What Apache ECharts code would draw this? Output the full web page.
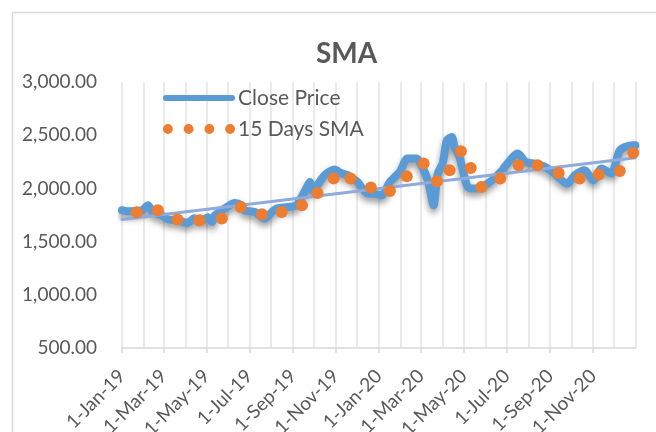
<!DOCTYPE html>
<html>
<head>
<meta charset="utf-8">
<script src="https://cdn.jsdelivr.net/npm/echarts@6.0.0/dist/echarts.min.js"></script>
<style>
  html, body { margin: 0; padding: 0; background: #fff; }
  #chart { width: 656px; height: 432px; }
</style>
</head>
<body>
<div id="chart"></div>
<script>
// Close price
const closeDates = [
    '2019-01-01', '2019-01-09', '2019-01-29', '2019-02-07', '2019-02-14', '2019-02-26',
    '2019-03-07', '2019-03-20', '2019-04-04', '2019-04-14', '2019-04-24', '2019-05-03',
    '2019-05-09', '2019-05-13', '2019-06-03', '2019-06-10', '2019-06-20', '2019-06-24',
    '2019-07-09', '2019-07-23', '2019-08-02', '2019-08-10', '2019-08-25', '2019-09-06',
    '2019-09-21', '2019-09-25', '2019-09-29', '2019-10-16', '2019-10-30', '2019-11-09',
    '2019-11-18', '2019-12-02', '2019-12-16', '2019-12-26', '2020-01-05', '2020-01-17',
    '2020-01-31', '2020-02-11', '2020-02-24', '2020-03-02', '2020-03-11', '2020-03-16',
    '2020-03-19', '2020-03-25', '2020-04-01', '2020-04-07', '2020-04-14', '2020-04-18',
    '2020-04-25', '2020-05-02', '2020-05-07', '2020-05-17', '2020-05-31', '2020-06-10',
    '2020-06-25', '2020-06-28', '2020-07-17', '2020-07-28', '2020-08-10', '2020-08-25',
    '2020-09-07', '2020-09-25', '2020-10-06', '2020-10-20', '2020-11-01', '2020-11-13',
    '2020-11-27', '2020-12-09', '2020-12-27', '2020-12-31'
];
const closeValues = [
    1795, 1785, 1793, 1841, 1776, 1748,
    1710, 1700, 1675, 1719, 1694, 1729,
    1684, 1747, 1841, 1863, 1841, 1794,
    1778, 1716, 1778, 1813, 1825, 1841,
    2013, 2060, 1982, 2123, 2177, 2142,
    2123, 2060, 1951, 1950, 1935, 2060,
    2154, 2280, 2280, 2217, 2076, 1919,
    1841, 2139, 2233, 2452, 2483, 2389,
    2295, 2107, 2013, 1998, 2029, 2076,
    2170, 2201, 2327, 2248, 2233, 2201,
    2139, 2045, 2123, 2170, 2076, 2186,
    2139, 2358, 2405, 2405
];

// 15 days SMA (dotted line, one value per dot)
const smaDates = [
    '2019-01-22', '2019-02-21', '2019-03-21', '2019-04-21', '2019-05-23', '2019-06-19',
    '2019-07-19', '2019-08-16', '2019-09-14', '2019-10-06', '2019-10-29', '2019-11-22',
    '2019-12-21', '2020-01-17', '2020-02-10', '2020-03-05', '2020-03-24', '2020-04-11',
    '2020-04-27', '2020-05-11', '2020-05-26', '2020-06-22', '2020-07-18', '2020-08-14',
    '2020-09-13', '2020-10-13', '2020-11-09', '2020-12-09', '2020-12-28'
];
const smaValues = [
    1775, 1795, 1707, 1700, 1716, 1825,
    1757, 1778, 1841, 1957, 2092, 2092,
    2008, 1976, 2114, 2233, 2067, 2170,
    2349, 2192, 2013, 2092, 2217, 2217,
    2145, 2092, 2130, 2164, 2333
];

// linear trendline of close price (two ends)
const trendDates = ['2019-01-01', '2020-12-31'];
const trendValues = [1707, 2289];

const monthNames = ['Jan', 'Feb', 'Mar', 'Apr', 'May', 'Jun', 'Jul', 'Aug', 'Sep', 'Oct', 'Nov', 'Dec'];

const DAY = 24 * 3600 * 1000;
const FONT = 'Lato, "Noto Sans", sans-serif';
const TEXT_COLOR = '#595959';

const chart = echarts.init(document.getElementById('chart'), null, { renderer: 'canvas' });

function fmtDate(value) {
    const d = new Date(value);
    if (d.getFullYear() > 2020) return '';
    return d.getDate() + '-' + monthNames[d.getMonth()] + '-' + String(d.getFullYear()).slice(2);
}

const zip = (xs, ys) => xs.map((x, i) => [x, ys[i]]);

const option = {
    backgroundColor: '#fff',
    animation: false,
    title: {
        text: 'SMA',
        left: 311,
        top: 35,
        textStyle: { fontFamily: FONT, fontSize: 28, fontWeight: 'bold', color: TEXT_COLOR }
    },
    legend: {
        orient: 'vertical',
        left: 158,
        top: 82,
        itemWidth: 72,
        itemHeight: 10,
        itemGap: 9,
        textStyle: { fontFamily: FONT, fontSize: 21, color: TEXT_COLOR, lineHeight: 22, padding: [0, 0, 0, -2] },
        data: [
            { name: 'Close Price', icon: 'path://M3,0 L69,0 A3,3 0 0 1 69,6 L3,6 A3,3 0 0 1 3,0 Z' },
            {
                name: '15 Days SMA',
                icon: 'path://M0,4.5 A4.5,4.5 0 1 1 9,4.5 A4.5,4.5 0 1 1 0,4.5 Z ' +
                      'M19,4.5 A4.5,4.5 0 1 1 28,4.5 A4.5,4.5 0 1 1 19,4.5 Z ' +
                      'M38,4.5 A4.5,4.5 0 1 1 47,4.5 A4.5,4.5 0 1 1 38,4.5 Z ' +
                      'M57,4.5 A4.5,4.5 0 1 1 66,4.5 A4.5,4.5 0 1 1 57,4.5 Z'
            }
        ]
    },
    grid: { left: 122, right: 20, top: 82, bottom: 84, containLabel: false, outerBoundsMode: 'none' },
    xAxis: [
        {
            type: 'time',
            min: '2019-01-01',
            max: '2021-01-01',
            minInterval: 75 * DAY,
            maxInterval: 75 * DAY,
            axisLine: { lineStyle: { color: '#D9D9D9', width: 1.5 } },
            axisTick: { show: true, length: 5, lineStyle: { color: '#D9D9D9', width: 1.5 } },
            axisLabel: {
                rotate: 45,
                margin: 25,
                fontFamily: FONT,
                fontSize: 19,
                color: TEXT_COLOR,
                hideOverlap: false,
                showMaxLabel: false,
                formatter: fmtDate
            },
            splitLine: { show: false }
        },
        {
            // monthly vertical gridlines
            type: 'time',
            position: 'top',
            min: '2019-01-01',
            max: '2021-01-01',
            minInterval: 40 * DAY,
            maxInterval: 40 * DAY,
            axisLine: { show: false },
            axisTick: { show: false },
            axisLabel: { show: false },
            splitLine: { show: true, lineStyle: { color: '#EAEAEA', width: 2 } }
        }
    ],
    yAxis: {
        type: 'value',
        min: 500,
        max: 3000,
        interval: 500,
        axisLine: { show: false },
        axisTick: { show: false },
        splitLine: { show: false },
        axisLabel: {
            margin: 25,
            fontFamily: FONT,
            fontSize: 19,
            color: TEXT_COLOR,
            formatter: v => v.toLocaleString('en-US', { minimumFractionDigits: 2, maximumFractionDigits: 2 })
        }
    },
    graphic: [
        {
            type: 'rect',
            shape: { x: 12.5, y: 12.5, width: 700, height: 500 },
            style: { fill: 'none', stroke: '#D9D9D9', lineWidth: 1.5 },
            silent: true
        }
    ],
    series: [
        {
            name: 'Close Price',
            type: 'line',
            xAxisIndex: 0,
            data: zip(closeDates, closeValues),
            showSymbol: false,
            smooth: 0.25,
            color: '#5B9BD5',
            lineStyle: {
                width: 8,
                color: '#5B9BD5',
                cap: 'round',
                join: 'round',
                shadowColor: 'rgba(0,0,0,0.4)',
                shadowBlur: 6,
                shadowOffsetY: 4
            },
            z: 2
        },
        {
            name: 'Linear (Close Price)',
            type: 'line',
            xAxisIndex: 0,
            data: zip(trendDates, trendValues),
            showSymbol: false,
            color: '#8FAADC',
            lineStyle: { width: 3, color: '#8FAADC', cap: 'round' },
            z: 3
        },
        {
            name: '15 Days SMA',
            type: 'line',
            xAxisIndex: 0,
            data: zip(smaDates, smaValues),
            showSymbol: true,
            symbol: 'circle',
            symbolSize: 12,
            color: '#ED7D31',
            itemStyle: { color: '#ED7D31' },
            lineStyle: { width: 0, opacity: 0 },
            z: 4
        }
    ]
};

chart.setOption(option);
</script>
</body>
</html>
